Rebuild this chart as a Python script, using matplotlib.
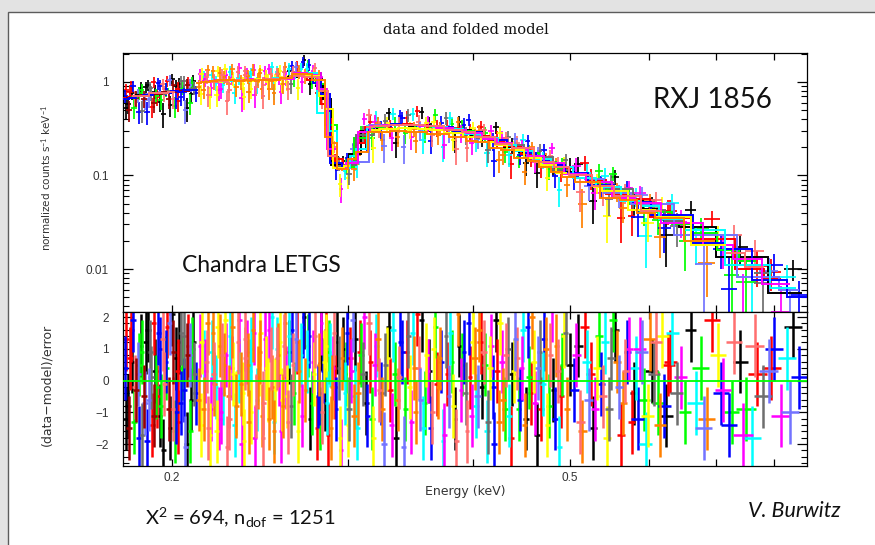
import numpy as np
import matplotlib
matplotlib.use("Agg")
import matplotlib.pyplot as plt
from matplotlib.patches import Rectangle
from matplotlib.ticker import LogLocator, MultipleLocator, NullFormatter, NullLocator

plt.rcParams['font.family'] = ['Liberation Sans', 'DejaVu Sans']
plt.rcParams['mathtext.fontset'] = 'custom'
plt.rcParams['mathtext.rm'] = 'Lato'
plt.rcParams['mathtext.it'] = 'Lato:italic'
plt.rcParams['axes.linewidth'] = 0.9

# ---------------------------------------------------------------------------
# Spectral bins: centre energy (keV), folded model (counts/s/keV),
# residual (data-model)/error and the observation each bin belongs to.
# ---------------------------------------------------------------------------
energy_keV = [
    # 0.18 - 0.21 keV
    0.1795, 0.1808, 0.1822, 0.1834, 0.1849, 0.1861, 0.1876, 0.1889, 0.1903, 0.1917,
    0.1930, 0.1945, 0.1958, 0.1972, 0.1986, 0.2000, 0.2013, 0.2027, 0.2041, 0.2055,
    0.2069, 0.2083, 0.2097, 0.2112,
    0.1801, 0.1815, 0.1828, 0.1842, 0.1855, 0.1869, 0.1883, 0.1896, 0.1910, 0.1924,
    0.1938, 0.1951, 0.1965, 0.1979, 0.1993, 0.2006, 0.2020, 0.2034, 0.2048, 0.2062,
    0.2076, 0.2090, 0.2105,
    0.1798, 0.1812, 0.1825, 0.1838, 0.1852, 0.1865, 0.1879, 0.1893, 0.1906, 0.1920,
    0.1934, 0.1948, 0.1961, 0.1975, 0.1989, 0.2003, 0.2017, 0.2030, 0.2044, 0.2058,
    0.2072, 0.2087, 0.2101,
    # 0.21 - 0.26 keV
    0.2128, 0.2143, 0.2160, 0.2174, 0.2191, 0.2206, 0.2222, 0.2239, 0.2254, 0.2270,
    0.2287, 0.2303, 0.2320, 0.2336, 0.2353, 0.2369, 0.2386, 0.2402, 0.2419, 0.2436,
    0.2452, 0.2469, 0.2486, 0.2503, 0.2519, 0.2536, 0.2553, 0.2570, 0.2587, 0.2604,
    0.2135, 0.2151, 0.2167, 0.2183, 0.2198, 0.2214, 0.2230, 0.2246, 0.2262, 0.2279,
    0.2295, 0.2311, 0.2328, 0.2344, 0.2361, 0.2377, 0.2394, 0.2411, 0.2427, 0.2444,
    0.2461, 0.2477, 0.2494, 0.2511, 0.2528, 0.2545, 0.2562, 0.2578, 0.2595, 0.2612,
    0.2139, 0.2155, 0.2171, 0.2187, 0.2202, 0.2218, 0.2234, 0.2250, 0.2266, 0.2283,
    0.2299, 0.2316, 0.2332, 0.2348, 0.2365, 0.2381, 0.2398, 0.2415, 0.2432, 0.2448,
    0.2465, 0.2482, 0.2499, 0.2516, 0.2532, 0.2549, 0.2566, 0.2583, 0.2600, 0.2616,
    # 0.26 - 0.28 keV
    0.2620, 0.2636, 0.2651, 0.2667, 0.2682, 0.2698, 0.2713, 0.2728, 0.2744, 0.2759,
    0.2775, 0.2790,
    0.2628, 0.2643, 0.2659, 0.2674, 0.2690, 0.2705, 0.2720, 0.2736, 0.2751, 0.2767,
    0.2782, 0.2797,
    # carbon edge, 0.28 - 0.305 keV
    0.2803, 0.2812, 0.2822, 0.2832, 0.2843, 0.2854, 0.2866, 0.2878, 0.2891, 0.2905,
    0.2920, 0.2936, 0.2952, 0.2968, 0.2984, 0.3000, 0.3016, 0.3032, 0.3047,
    0.2807, 0.2817, 0.2827, 0.2838, 0.2849, 0.2860, 0.2872, 0.2885, 0.2898, 0.2912,
    0.2928, 0.2944, 0.2960, 0.2976, 0.2992, 0.3008, 0.3024, 0.3040,
    # 0.305 - 0.50 keV
    0.3050, 0.3072, 0.3093, 0.3115, 0.3137, 0.3158, 0.3180, 0.3203, 0.3225, 0.3247,
    0.3270, 0.3293, 0.3316, 0.3339, 0.3362, 0.3385, 0.3409, 0.3433, 0.3457, 0.3481,
    0.3505, 0.3530, 0.3554, 0.3579, 0.3604, 0.3629, 0.3654, 0.3680, 0.3706, 0.3732,
    0.3758, 0.3784, 0.3811, 0.3837, 0.3864, 0.3891, 0.3918, 0.3946, 0.3973, 0.4001,
    0.4029, 0.4057, 0.4085, 0.4114, 0.4143, 0.4172, 0.4201, 0.4230, 0.4260, 0.4290,
    0.4320, 0.4350, 0.4380, 0.4411, 0.4442, 0.4473, 0.4504, 0.4536, 0.4567, 0.4600,
    0.4632, 0.4664, 0.4697, 0.4730, 0.4763, 0.4796, 0.4830, 0.4864, 0.4898, 0.4932,
    0.4967, 0.5001,
    # 0.50 - 0.65 keV
    0.5050, 0.5098, 0.5146, 0.5195, 0.5244, 0.5294, 0.5344, 0.5394, 0.5445, 0.5497,
    0.5549, 0.5601, 0.5654, 0.5708, 0.5762, 0.5816, 0.5871, 0.5927, 0.5983, 0.6040,
    0.6097, 0.6155, 0.6213, 0.6272, 0.6331, 0.6391, 0.6451, 0.6512,
    # 0.66 - 0.85 keV
    0.6600, 0.6680, 0.6760, 0.6850, 0.6940, 0.7030, 0.7120, 0.7210, 0.7300, 0.7400,
    0.7500, 0.7600, 0.7700, 0.7800, 0.7900, 0.8000, 0.8120, 0.8240, 0.8360, 0.8480,
    # second grating arm, 0.305 - 0.50 keV
    0.3061, 0.3083, 0.3104, 0.3126, 0.3148, 0.3169, 0.3191, 0.3214, 0.3236, 0.3258,
    0.3281, 0.3304, 0.3327, 0.3350, 0.3373, 0.3397, 0.3421, 0.3445, 0.3469, 0.3493,
    0.3517, 0.3542, 0.3566, 0.3591, 0.3616, 0.3641, 0.3667, 0.3693, 0.3719, 0.3745,
    0.3771, 0.3797, 0.3824, 0.3850, 0.3877, 0.3904, 0.3932, 0.3959, 0.3987, 0.4015,
    0.4043, 0.4071, 0.4099, 0.4128, 0.4157, 0.4186, 0.4215, 0.4245, 0.4275, 0.4305,
    0.4335, 0.4365, 0.4395, 0.4426, 0.4457, 0.4488, 0.4520, 0.4551, 0.4583, 0.4616,
    0.4648, 0.4680, 0.4713, 0.4746, 0.4779, 0.4813, 0.4847, 0.4881, 0.4915, 0.4950,
    # second grating arm, 0.50 - 0.63 keV
    0.5074, 0.5122, 0.5171, 0.5220, 0.5269, 0.5319, 0.5369, 0.5420, 0.5471, 0.5523,
    0.5575, 0.5628, 0.5681, 0.5735, 0.5789, 0.5844, 0.5899, 0.5955, 0.6012, 0.6069,
    0.6126, 0.6184, 0.6243, 0.6302,
    # second grating arm, 0.68 - 0.83 keV
    0.6805, 0.7075, 0.7255, 0.7450, 0.7650, 0.7950, 0.8300,
]

model_flux = [
    0.66, 0.68, 0.70, 0.69, 0.70, 0.72, 0.73, 0.72, 0.74, 0.75,
    0.74, 0.76, 0.77, 0.76, 0.78, 0.79, 0.78, 0.80, 0.79, 0.81,
    0.82, 0.81, 0.83, 0.82,
    0.67, 0.69, 0.68, 0.71, 0.70, 0.71, 0.72, 0.74, 0.73, 0.75,
    0.76, 0.75, 0.77, 0.78, 0.77, 0.79, 0.80, 0.79, 0.81, 0.80,
    0.82, 0.83, 0.84,
    0.67, 0.68, 0.69, 0.70, 0.71, 0.70, 0.73, 0.72, 0.75, 0.74,
    0.75, 0.77, 0.76, 0.78, 0.79, 0.78, 0.80, 0.81, 0.80, 0.82,
    0.81, 0.83, 0.84,
    0.98, 1.00, 1.02, 0.99, 1.01, 1.03, 1.00, 1.02, 1.04, 1.01,
    1.03, 1.05, 1.02, 1.04, 1.03, 1.05, 1.02, 1.04, 1.06, 1.03,
    1.05, 1.07, 1.04, 1.06, 1.05, 1.08, 1.06, 1.09, 1.07, 1.10,
    1.01, 0.99, 1.03, 1.00, 1.02, 1.01, 1.04, 1.03, 1.02, 1.05,
    1.04, 1.03, 1.06, 1.03, 1.05, 1.04, 1.06, 1.05, 1.04, 1.07,
    1.06, 1.05, 1.08, 1.07, 1.06, 1.09, 1.08, 1.07, 1.10, 1.09,
    1.00, 1.02, 1.01, 1.03, 0.99, 1.02, 1.04, 1.01, 1.03, 1.04,
    1.06, 1.02, 1.05, 1.04, 1.06, 1.05, 1.03, 1.07, 1.05, 1.06,
    1.04, 1.08, 1.06, 1.05, 1.09, 1.07, 1.08, 1.10, 1.08, 1.11,
    1.12, 1.15, 1.18, 1.20, 1.22, 1.24, 1.25, 1.24, 1.22, 1.20,
    1.15, 1.05,
    1.10, 1.16, 1.17, 1.21, 1.20, 1.25, 1.23, 1.26, 1.21, 1.19,
    1.12, 0.98,
    1.05, 0.95, 0.85, 0.75, 0.65, 0.52, 0.40, 0.30, 0.22, 0.16,
    0.135, 0.125, 0.12, 0.12, 0.122, 0.125, 0.13, 0.14, 0.16,
    1.00, 0.90, 0.80, 0.70, 0.58, 0.46, 0.35, 0.26, 0.19, 0.15,
    0.13, 0.12, 0.118, 0.12, 0.12, 0.128, 0.135, 0.15,
    0.170, 0.180, 0.250, 0.290, 0.310, 0.334, 0.308, 0.341, 0.339, 0.292,
    0.347, 0.345, 0.350, 0.344, 0.296, 0.352, 0.348, 0.351, 0.320, 0.349,
    0.293, 0.344, 0.342, 0.339, 0.342, 0.337, 0.308, 0.334, 0.280, 0.328,
    0.324, 0.316, 0.314, 0.310, 0.260, 0.304, 0.297, 0.290, 0.288, 0.258,
    0.276, 0.229, 0.263, 0.256, 0.253, 0.247, 0.240, 0.236, 0.210, 0.189,
    0.215, 0.212, 0.204, 0.197, 0.193, 0.187, 0.153, 0.175, 0.171, 0.152,
    0.160, 0.156, 0.151, 0.123, 0.140, 0.136, 0.130, 0.124, 0.121, 0.107,
    0.096, 0.110,
    0.106, 0.102, 0.085, 0.093, 0.089, 0.085, 0.081, 0.078, 0.069, 0.071,
    0.068, 0.065, 0.055, 0.059, 0.056, 0.054, 0.051, 0.049, 0.043, 0.044,
    0.042, 0.035, 0.038, 0.036, 0.034, 0.033, 0.031, 0.030,
    0.028, 0.026, 0.024, 0.0198, 0.021, 0.0181, 0.018, 0.0165, 0.015, 0.0135,
    0.0122, 0.011, 0.0100, 0.0091, 0.0083, 0.0076, 0.0069, 0.0062, 0.0056, 0.0050,
    0.190, 0.220, 0.270, 0.300, 0.329, 0.333, 0.337, 0.289, 0.342, 0.343,
    0.317, 0.346, 0.347, 0.348, 0.349, 0.350, 0.350, 0.349, 0.348, 0.294,
    0.345, 0.343, 0.342, 0.313, 0.338, 0.336, 0.334, 0.281, 0.328, 0.324,
    0.320, 0.316, 0.287, 0.308, 0.304, 0.300, 0.295, 0.289, 0.283, 0.235,
    0.272, 0.266, 0.260, 0.254, 0.228, 0.243, 0.237, 0.196, 0.225, 0.219,
    0.213, 0.207, 0.185, 0.195, 0.189, 0.183, 0.178, 0.172, 0.143, 0.162,
    0.158, 0.152, 0.148, 0.131, 0.138, 0.132, 0.109, 0.122, 0.118, 0.114,
    0.104, 0.100, 0.095, 0.091, 0.087, 0.076, 0.080, 0.076, 0.073, 0.070,
    0.058, 0.063, 0.060, 0.058, 0.055, 0.052, 0.050, 0.047, 0.040, 0.043,
    0.041, 0.036, 0.037, 0.035,
    0.023, 0.019, 0.0158, 0.0128, 0.0105, 0.0079, 0.0059,
]

residual = [
    0.4, -0.8, 1.6, -1.3, 0.2, 1.1, -0.5, -1.9, 0.9, 1.8,
    -0.2, -1.1, 1.3, 0.6, -0.9, 2.1, -1.6, 0.3, -0.7, 1.4,
    -2.0, 0.8, 1.0, -0.4,
    -1.2, 0.7, 1.9, -0.3, 0.5, -1.7, 1.2, -0.6, -1.4, 0.3,
    1.5, -0.8, -0.1, 1.7, -1.5, 0.9, -1.0, 1.2, 0.4, -2.1,
    1.1, -0.6, 0.2,
    1.3, -1.5, 0.6, -0.2, -1.8, 0.9, -0.7, 1.6, 0.1, -1.1,
    -0.5, 1.0, -2.2, 0.4, 1.8, -0.9, 0.7, -1.3, 1.5, -0.3,
    0.8, -1.6, 1.2,
    -0.6, 1.2, 0.3, -1.5, 0.9, -0.1, 1.7, -1.0, 0.5, -2.1,
    1.4, 0.2, -0.8, 1.9, -0.4, 0.7, -1.3, 1.0, -1.8, 0.1,
    1.5, -0.7, 0.4, -1.2, 2.0, -0.3, 0.8, -1.6, 1.1, -0.5,
    1.1, -0.9, 0.6, -1.7, 1.5, -0.2, -1.2, 0.8, 1.9, -0.5,
    0.4, -1.4, 1.2, -0.1, -1.9, 0.9, 0.3, 1.6, -0.8, 0.5,
    -1.1, 1.3, -0.3, 0.7, -1.6, 1.0, 0.2, -0.6, 1.8, -1.3,
    -1.4, 0.6, 1.8, -0.9, 0.2, -1.6, 1.1, -0.4, 0.8, -1.2,
    1.7, -0.7, 0.3, -2.0, 1.3, 0.5, -1.0, 1.5, -0.6, 0.9,
    -1.8, 0.4, 1.6, -0.2, -1.3, 0.7, 1.2, -0.8, 0.1, 1.4,
    0.9, 1.6, -0.4, 1.2, 0.3, -1.1, 2.0, 0.6, 1.4, -0.7,
    0.2, -1.5,
    -0.8, 0.5, 1.3, -1.6, 0.8, 1.7, -0.3, 1.1, -1.2, 0.6,
    1.4, -0.5,
    0.5, -1.2, 1.8, 0.3, -0.6, 1.1, -1.7, 0.8, -0.2, 1.5,
    -0.9, 0.4, -2.2, 1.0, 0.2, -1.4, 0.7, 1.9, -0.5,
    -0.4, 1.3, -1.0, 0.6, 1.6, -0.7, 0.9, -1.5, 0.4, -0.2,
    1.2, -1.8, 0.7, -0.4, 1.5, -0.9, 0.3, -1.1,
    1.3, -0.4, 0.8, 2.0, -1.1, 0.6, -1.8, 1.1, -0.3, -0.9,
    0.5, 1.7, -1.4, 0.2, -0.6, 1.2, -2.1, 0.9, -0.2, 1.5,
    -1.0, 0.4, 1.9, -0.7, 0.3, -1.5, 1.0, -0.1, 0.7, -1.9,
    1.4, -0.5, 0.6, -1.2, 2.1, -0.3, 0.9, -1.6, 0.1, 1.2,
    -0.8, 1.6, -0.2, 0.5, -1.3, 1.1, -2.0, 0.3, 1.8, -0.6,
    0.8, -1.1, 0.2, 1.3, -0.9, 0.4, -1.4, 1.7, -0.4, 0.6,
    -1.7, 0.9, -0.1, 1.0, -0.8, 2.2, -1.2, 0.3, -0.5, 1.4,
    -0.9, 0.5,
    -0.3, 1.1, -1.6, 0.6, 0.2, -0.9, 1.4, -0.5, -1.8, 0.7,
    1.6, -0.2, -0.7, 0.9, -1.3, 0.4, 1.0, -0.6, -1.1, 0.3,
    1.2, -1.4, -0.8, 0.5, 1.5, -0.4, 0.1, -1.0,
    1.6, -0.7, 0.4, -1.2, 1.9, 0.8, -0.3, -1.4, 1.2, 0.6,
    -0.9, -1.8, 0.2, -0.5, 0.3, 1.0, -1.1, 0.7, 1.7, 0.1,
    -1.5, 0.9, 0.2, -0.7, 1.8, -1.2, 0.5, 1.3, -0.4, -2.0,
    0.7, -0.3, 1.6, -1.8, 0.1, 0.9, -0.9, 1.4, -1.3, 0.4,
    2.1, -0.6, -1.5, 0.8, 0.3, -1.0, 1.7, -0.2, 0.6, -1.7,
    0.2, 1.5, -0.8, -1.9, 1.1, 0.5, -0.4, 1.8, -1.1, 0.7,
    -0.5, 1.2, 0.9, -1.6, 0.4, -0.2, 1.9, -1.3, 0.6, -0.9,
    1.0, -1.8, 0.3, 0.7, -0.6, 1.6, -1.2, 0.1, 2.0, -0.7,
    0.4, -0.9, 1.3, -1.4, 0.8, -0.3, 1.1, -2.1, 0.5, 1.5,
    0.8, -1.3, 1.7, -0.6, -1.5, 0.4, -0.1, 1.2, -0.9, 1.9,
    0.6, -1.7, 0.3, 1.0, -0.4, -1.2, 0.9, -2.0, 1.3, 0.2,
    -0.7, 1.4, -1.1, 0.6,
    -1.5, -0.4, -1.0, -1.7, 1.1, 0.4, -1.0,
]

obs_index = [
    3, 0, 1, 2, 10, 0, 11, 3, 8, 1,
    2, 0, 9, 3, 11, 0, 2, 1, 3, 8,
    0, 10, 2, 3,
    0, 1, 3, 11, 2, 8, 0, 10, 1, 0,
    3, 2, 9, 1, 0, 11, 3, 0, 2, 10,
    1, 0, 8,
    1, 11, 0, 9, 3, 2, 10, 0, 8, 11,
    1, 3, 0, 2, 10, 9, 0, 1, 8, 3,
    11, 2, 0,
    7, 6, 5, 9, 4, 7, 6, 5, 7, 9,
    4, 6, 7, 5, 6, 9, 7, 4, 5, 7,
    6, 9, 5, 7, 4, 6, 7, 5, 9, 6,
    5, 7, 9, 6, 7, 4, 5, 9, 6, 7,
    5, 4, 9, 7, 6, 5, 4, 7, 9, 6,
    7, 5, 6, 9, 7, 4, 5, 6, 7, 9,
    6, 4, 7, 5, 9, 6, 7, 4, 5, 9,
    7, 6, 4, 5, 9, 7, 6, 5, 4, 7,
    9, 6, 5, 7, 4, 9, 6, 7, 5, 4,
    0, 3, 2, 1, 7, 5, 0, 4, 3, 2,
    6, 1,
    8, 9, 10, 6, 4, 3, 7, 2, 0, 5,
    9, 3,
    7, 2, 5, 3, 0, 6, 1, 4, 7, 9,
    3, 8, 5, 0, 2, 6, 1, 10, 4,
    3, 0, 9, 6, 1, 4, 2, 7, 5, 1,
    0, 6, 7, 4, 3, 8, 5, 7,
    0, 7, 2, 5, 3, 1, 6, 4, 9, 7,
    8, 0, 5, 2, 7, 3, 10, 1, 6, 4,
    7, 9, 0, 2, 5, 3, 6, 1, 7, 4,
    8, 10, 2, 0, 7, 5, 3, 9, 1, 6,
    4, 7, 0, 2, 8, 5, 3, 1, 6, 7,
    9, 4, 0, 10, 2, 5, 7, 3, 1, 6,
    0, 8, 4, 7, 2, 5, 3, 9, 1, 6,
    7, 0,
    3, 0, 7, 4, 1, 5, 2, 9, 6, 8,
    0, 10, 7, 3, 1, 4, 5, 2, 6, 0,
    9, 7, 3, 1, 4, 8, 5, 2,
    0, 4, 2, 7, 1, 6, 5, 3, 9, 0,
    2, 4, 1, 8, 10, 3, 5, 4, 0, 3,
    4, 1, 8, 0, 9, 2, 5, 7, 3, 10,
    6, 1, 4, 0, 9, 3, 2, 8, 5, 7,
    1, 10, 4, 6, 0, 9, 2, 7, 3, 5,
    1, 4, 6, 9, 0, 2, 8, 3, 5, 7,
    10, 1, 9, 4, 6, 3, 0, 7, 5, 2,
    8, 1, 6, 9, 3, 4, 0, 2, 7, 5,
    10, 1, 3, 6, 9, 0, 7, 4, 2, 8,
    5, 9, 1, 10, 0, 6, 3, 4, 8, 2,
    7, 1, 9, 5, 0, 3, 10, 4, 7, 8,
    2, 6, 0, 1,
    10, 3, 2, 5, 9, 1, 10,
]

obs_colors = ['#000000', '#ff0000', '#00ff00', '#0000ff', '#00ffff', '#ff00ff',
              '#ffff00', '#ff8000', '#6e6e6e', '#ff6f6f', '#7373ff', '#9a0000']
# model histograms are overplotted in this order
model_draw_order = [0, 1, 2, 8, 10, 11, 3, 4, 5, 6, 9, 7]

# bin half-width and fractional 1-sigma error by energy band
hw_band_edges = [0.30, 0.40, 0.50, 0.58, 0.66, 0.74]
hw_band_keV = [0.0012, 0.0020, 0.0030, 0.0050, 0.0090, 0.0130, 0.0170]
err_band_edges = [0.30, 0.50, 0.62, 0.72]
err_band_frac = [0.18, 0.20, 0.26, 0.34, 0.45]

x_ticks = [0.2, 0.3, 0.4, 0.5, 0.6, 0.7, 0.8]
x_tick_labels = ['0.2', '', '', '0.5', '', '', '']
flux_ticks = [0.01, 0.1, 1]
flux_tick_labels = ['0.01', '0.1', '1']
res_ticks = [-2, -1, 0, 1, 2]
res_tick_labels = ['\u22122', '\u22121', '0', '1', '2']

E = np.array(energy_keV)
M = np.array(model_flux)
R = np.array(residual)
obs = np.array(obs_index)
hw = np.array(hw_band_keV)[np.searchsorted(hw_band_edges, E)]
sigma = M * np.array(err_band_frac)[np.searchsorted(err_band_edges, E)]
flux = M + R * sigma

W, H = 875, 545
fig = plt.figure(figsize=(W / 100, H / 100), dpi=100)
fig.patch.set_facecolor('#e3e3e3')
fig.add_artist(Rectangle((8 / W, -0.02), 1.0, 1.02 - 12 / H, transform=fig.transFigure,
                         facecolor='white', edgecolor='#5c5c5c', lw=1.0, zorder=-5))

left, right = 123 / W, 807 / W
ax1 = fig.add_axes([left, 1 - 312 / H, right - left, (312 - 53) / H])
ax2 = fig.add_axes([left, 1 - 466 / H, right - left, (466 - 312) / H], sharex=ax1)

for ax in (ax1, ax2):
    ax.set_xscale('log')
    ax.set_xlim(0.1787, 0.863)
    ax.xaxis.set_minor_locator(NullLocator())
    ax.tick_params(which='both', direction='in', top=True, right=True,
                   labelsize=8.5, labelcolor='#333333', pad=10)
    ax.tick_params(axis='x', which='major', length=5, width=0.9, pad=4)
    ax.tick_params(axis='y', which='major', length=7, width=0.9)
    ax.tick_params(axis='y', which='minor', length=4, width=0.8)

ax1.set_yscale('log')
ax1.set_ylim(0.00347, 2.04)
ax1.set_yticks(flux_ticks, flux_tick_labels)
ax1.yaxis.set_minor_locator(LogLocator(base=10, subs=np.arange(2, 10)))
ax1.yaxis.set_minor_formatter(NullFormatter())
ax1.tick_params(labelbottom=False)

ax2.set_ylim(-2.69, 2.16)
ax2.set_yticks(res_ticks, res_tick_labels)
ax2.yaxis.set_minor_locator(MultipleLocator(0.2))
ax2.set_xticks(x_ticks, x_tick_labels)

# data with error bars, one observation after another
for k, c in enumerate(obs_colors):
    m = obs == k
    if not m.any():
        continue
    ax1.errorbar(E[m], flux[m], xerr=hw[m], yerr=sigma[m], fmt='none',
                 ecolor=c, elinewidth=1.25, capsize=0, zorder=2)
    ax2.errorbar(E[m], R[m], xerr=hw[m], yerr=1.0, fmt='none',
                 ecolor=c, elinewidth=1.8, capsize=0, zorder=2)

# folded model of each observation as a histogram
for k in model_draw_order:
    c = obs_colors[k]
    m = obs == k
    if not m.any():
        continue
    order = np.argsort(E[m])
    e, mod, h = E[m][order], M[m][order], hw[m][order]
    breaks = np.where(np.diff(e) > 12 * h[:-1])[0] + 1
    for grp in np.split(np.arange(len(e)), breaks):
        eg, mg, hg = e[grp], mod[grp], h[grp]
        edges = np.concatenate([[eg[0] - hg[0]], 0.5 * (eg[1:] + eg[:-1]), [eg[-1] + hg[-1]]])
        ax1.stairs(mg, edges, baseline=None, color=c, lw=1.4, zorder=3)

ax2.axhline(0, color='#00ff00', lw=1.3, zorder=4)

# titles and labels
fig.text(466 / W, 1 - 30 / H, 'data and folded model', ha='center', va='center',
         family='DejaVu Serif', fontsize=10.5, color='#111111')
fig.text(47 / W, 1 - 178 / H, 'normalized counts s$^{\\mathrm{-1}}$ keV$^{\\mathrm{-1}}$',
         rotation=90, ha='center', va='center', family='DejaVu Sans', fontsize=7.5,
         color='#333333')
fig.text(47 / W, 1 - 385 / H, '(data\u2212model)/error', rotation=90,
         ha='center', va='center', family='DejaVu Sans', fontsize=9, color='#333333')
fig.text(465 / W, 1 - 491 / H, 'Energy (keV)', ha='center', va='center',
         family='DejaVu Sans', fontsize=9, color='#333333')

fig.text(712 / W, 1 - 100 / H, 'RXJ 1856', ha='center', va='center',
         family='Lato', fontsize=20, color='#111111')
fig.text(261 / W, 1 - 266 / H, 'Chandra LETGS', ha='center', va='center',
         family='Lato', fontsize=16.5, color='#111111')
fig.text(145 / W, 1 - 518 / H, 'X$^{\\mathrm{2}}$ = 694, n$_{\\mathrm{dof}}$ = 1251',
         ha='left', va='center', family='Lato', fontsize=14.5, color='#111111')
fig.text(794 / W, 1 - 511 / H, 'V. Burwitz', ha='center', va='center',
         family='Lato', style='italic', fontsize=15.5, color='#111111')

fig.savefig('out.png', dpi=100, facecolor=fig.get_facecolor())
